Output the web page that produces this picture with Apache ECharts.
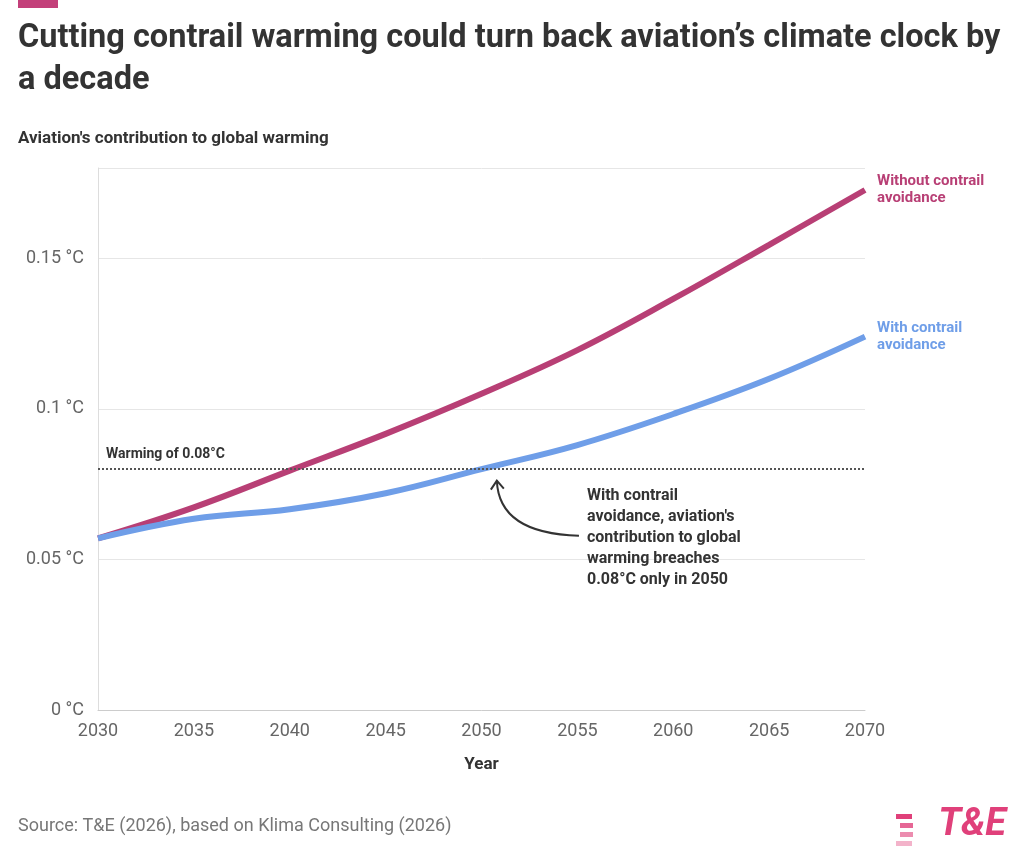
<!DOCTYPE html>
<html><head><meta charset="utf-8">
<script src="https://cdn.jsdelivr.net/npm/echarts@6/dist/echarts.min.js"></script>
<style>html,body{margin:0;padding:0;background:#fff}#c{width:1024px;height:864px}</style>
</head><body><div id="c"></div>
<script>
var years = [2030, 2035, 2040, 2045, 2050, 2055, 2060, 2065, 2070];
var withoutAvoid = [0.057, 0.0673, 0.0795, 0.0917, 0.105, 0.1195, 0.1365, 0.1545, 0.1727];
var withAvoid = [0.057, 0.0635, 0.0667, 0.072, 0.080, 0.088, 0.0983, 0.110, 0.124];
var yTicks = [0, 0.05, 0.1, 0.15];
var threshold = 0.08;

var chart = echarts.init(document.getElementById('c'));
var font = 'Roboto, "Noto Sans", sans-serif';
function pairs(v){ return years.map(function(y,i){ return [y, v[i]]; }); }

var option = {
    animation: false,
    textStyle: {fontFamily: font},
    grid: {left: 98, right: 159, top: 168, bottom: 154},
    xAxis: {
        type: 'value', min: 2030, max: 2070, interval: 5,
        name: 'Year', nameLocation: 'middle', nameGap: 46,
        nameTextStyle: {fontSize: 17, fontWeight: 'bold', color: '#333'},
        axisLine: {show: true, lineStyle: {color: '#ccc'}},
        axisTick: {show: false},
        splitLine: {show: false},
        axisLabel: {fontSize: 18, color: '#666', margin: 12, formatter: function(v){ return String(v); }}
    },
    yAxis: {
        type: 'value', min: 0, max: 0.18, interval: 0.05,
        axisLine: {show: true, lineStyle: {color: '#ddd'}}, axisTick: {show: false},
        splitLine: {lineStyle: {color: '#e6e6e6'}},
        axisLabel: {fontSize: 18, color: '#666', margin: 14,
            formatter: function(v){ return yTicks.indexOf(Math.round(v*100)/100) >= 0 ? (Math.round(v*100)/100) + ' °C' : ''; }}
    },
    series: [
        {
            type: 'line', data: pairs(withoutAvoid), smooth: 0.4, showSymbol: false,
            lineStyle: {color: '#b83f75', width: 6}, z: 3,
            endLabel: {show: true, formatter: 'Without contrail\navoidance', color: '#b83f75',
                fontSize: 15, fontWeight: 'bold', lineHeight: 17, offset: [4, 0]}
        },
        {
            type: 'line', data: pairs(withAvoid), smooth: 0.4, showSymbol: false,
            lineStyle: {color: '#6f9ee8', width: 6}, z: 4,
            endLabel: {show: true, formatter: 'With contrail\navoidance', color: '#6f9ee8',
                fontSize: 15, fontWeight: 'bold', lineHeight: 17, offset: [4, 0]},
            markLine: {
                silent: true, symbol: 'none',
                lineStyle: {color: '#555', type: 'dotted', width: 2},
                label: {show: false},
                data: [{yAxis: threshold}]
            }
        }
    ],
    graphic: [
        {type: 'rect', left: 18, top: 0, shape: {width: 40, height: 8}, style: {fill: '#c3407a'}},
        {type: 'text', left: 18, top: 18, style: {text: 'Cutting contrail warming could turn back aviation’s climate clock by\na decade',
            fontSize: 32.5, fontWeight: 'bold', fill: '#333', lineHeight: 42, fontFamily: font}},
        {type: 'text', left: 18, top: 130, style: {text: "Aviation's contribution to global warming",
            fontSize: 17, fontWeight: 'bold', fill: '#333', fontFamily: font}},
        {type: 'text', left: 18, top: 817, style: {text: 'Source: T&E (2026), based on Klima Consulting (2026)',
            fontSize: 18, fill: '#777', fontFamily: font}},
        {type: 'text', right: 18, top: 806, style: {text: 'T&E', fontSize: 38, fontWeight: 'bold', fontStyle: 'italic', fill: '#e0407a', fontFamily: font}},
        {type: 'group', left: 896, top: 814, children: [
            {type: 'rect', shape: {x: 0, y: 0, width: 16, height: 5}, style: {fill: '#e0407a'}},
            {type: 'rect', shape: {x: 4, y: 9, width: 13, height: 5}, style: {fill: '#e0407a', opacity: 0.8}},
            {type: 'rect', shape: {x: 4, y: 18, width: 13, height: 5}, style: {fill: '#e0407a', opacity: 0.6}},
            {type: 'rect', shape: {x: 0, y: 27, width: 16, height: 5}, style: {fill: '#e0407a', opacity: 0.4}}
        ]}
    ]
};
chart.setOption(option);

// annotations anchored to data coordinates
var pLab = chart.convertToPixel({xAxisIndex: 0, yAxisIndex: 0}, [2030, threshold]);
var pArrowTip = chart.convertToPixel({xAxisIndex: 0, yAxisIndex: 0}, [2050.8, 0.0775]);
var pText = chart.convertToPixel({xAxisIndex: 0, yAxisIndex: 0}, [2055.5, 0.0745]);
var start = [pText[0] - 8, pText[1] + 50];
var tip = [pArrowTip[0], pArrowTip[1] + 4];
chart.setOption({graphic: option.graphic.concat([
    {type: 'text', left: pLab[0] + 8, top: pLab[1] - 22, style: {text: 'Warming of 0.08°C', fontSize: 14, fontWeight: 'bold', fill: '#333', fontFamily: font}},
    {type: 'text', left: pText[0], top: pText[1], style: {text: 'With contrail\navoidance, aviation\'s\ncontribution to global\nwarming breaches\n0.08°C only in 2050',
        fontSize: 16, fontWeight: 'bold', fill: '#333', lineHeight: 21, fontFamily: font}},
    {type: 'bezierCurve', shape: {x1: start[0], y1: start[1], x2: tip[0], y2: tip[1],
        cpx1: tip[0] + 2, cpy1: start[1] - 2}, style: {stroke: '#333', lineWidth: 2, fill: null}},
    {type: 'polyline', shape: {points: [[tip[0] - 6, tip[1] + 9], [tip[0], tip[1]], [tip[0] + 7, tip[1] + 8]]},
        style: {stroke: '#333', lineWidth: 2, fill: null}}
])}, {replaceMerge: ['graphic']});
</script></body></html>
